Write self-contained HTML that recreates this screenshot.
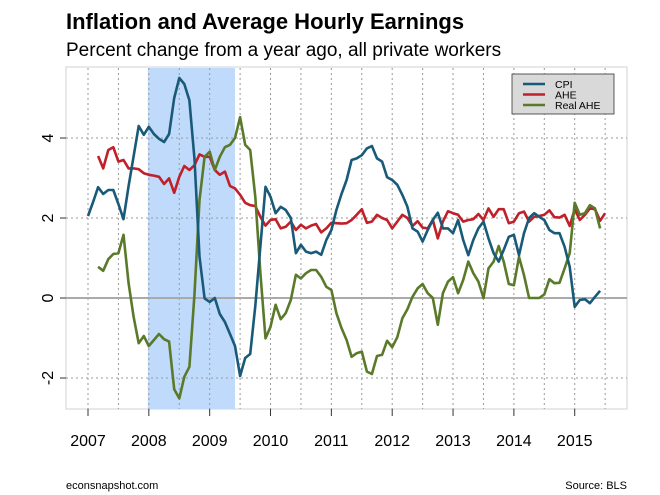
<!DOCTYPE html>
<html><head><meta charset="utf-8"><style>
body{margin:0;background:#fff;}
svg{display:block;font-family:"Liberation Sans",Arial,sans-serif;}
</style></head><body>
<svg width="660" height="495" viewBox="0 0 660 495">
<text x="66" y="29" font-size="22" font-weight="bold">Inflation and Average Hourly Earnings</text>
<text x="66" y="56" font-size="19">Percent change from a year ago, all private workers</text>
<rect x="66" y="67" width="561" height="342" fill="#fff" stroke="#d8d8d8" stroke-width="1.2"/>
<g id="shade"></g>
<g id="grid"></g>
<g id="axes"></g>
<g id="series"></g>
<g>
<rect x="512" y="74" width="102" height="40" fill="#d9d9d9" stroke="#333" stroke-width="0.8"/>
<line x1="523" y1="84" x2="545" y2="84" stroke="#195a78" stroke-width="2.5"/>
<text x="555" y="88" font-size="10.5">CPI</text>
<line x1="523" y1="94.5" x2="545" y2="94.5" stroke="#c0202a" stroke-width="2.5"/>
<text x="555" y="98.5" font-size="10.5">AHE</text>
<line x1="523" y1="105" x2="545" y2="105" stroke="#5a7a2a" stroke-width="2.5"/>
<text x="555" y="109" font-size="10.5">Real AHE</text>
</g>
<text x="66" y="489" font-size="11">econsnapshot.com</text>
<text x="627" y="489" font-size="11" text-anchor="end">Source: BLS</text>
</svg>
<script>
const years=[2007,2008,2009,2010,2011,2012,2013,2014,2015];
const yTicks=[-2,0,2,4];
const recession=[12,29];
const cpi=[2.05,2.4,2.77,2.6,2.7,2.7,2.35,1.97,2.8,3.54,4.3,4.08,4.28,4.1,3.98,3.9,4.1,5.0,5.5,5.35,4.94,3.47,1.03,-0.01,-0.1,0,-0.4,-0.6,-0.9,-1.2,-1.95,-1.5,-1.4,-0.2,1.3,2.78,2.53,2.12,2.28,2.2,2.0,1.12,1.33,1.16,1.12,1.16,1.08,1.45,1.7,2.2,2.6,2.95,3.45,3.49,3.57,3.74,3.8,3.49,3.41,3.02,2.95,2.83,2.58,2.28,1.74,1.66,1.41,1.7,1.95,2.13,1.74,1.74,1.62,1.95,1.45,1.07,1.45,1.74,1.91,1.49,1.12,0.91,1.2,1.53,1.58,1.07,1.62,2.0,2.12,2.03,1.95,1.7,1.62,1.62,1.28,0.78,-0.22,-0.05,-0.03,-0.13,0.03,0.18];
const ahe=[null,null,3.55,3.24,3.7,3.77,3.41,3.45,3.24,3.24,3.22,3.12,3.08,3.06,3.03,2.85,2.99,2.63,3.03,3.3,3.2,3.32,3.59,3.53,3.53,3.2,3.08,3.16,2.8,2.74,2.58,2.38,2.32,2.3,2.03,1.81,1.95,1.97,1.74,1.78,1.91,1.7,1.83,1.74,1.81,1.85,1.64,1.74,1.88,1.87,1.86,1.87,1.95,2.08,2.22,1.88,1.91,2.08,2.0,1.95,1.74,1.91,2.08,2.0,1.8,1.92,1.76,1.74,1.95,1.49,1.91,2.17,2.12,2.08,1.91,1.95,1.97,2.1,1.95,2.24,2.03,2.22,2.22,1.87,1.91,2.12,2.16,1.91,2.03,2.05,2.08,2.19,2.02,2.01,2.08,1.8,2.22,1.95,2.08,2.24,2.22,1.93,2.12];
const realAhe=[null,null,0.78,0.68,0.97,1.1,1.12,1.58,0.37,-0.47,-1.13,-0.95,-1.2,-1.05,-0.9,-1.03,-1.09,-2.28,-2.51,-1.97,-1.72,0.1,2.45,3.53,3.66,3.2,3.53,3.77,3.83,4.0,4.52,3.83,3.7,2.53,0.62,-1.01,-0.72,-0.17,-0.53,-0.38,-0.05,0.58,0.49,0.62,0.7,0.7,0.53,0.28,0.2,-0.38,-0.75,-1.05,-1.47,-1.38,-1.34,-1.84,-1.9,-1.45,-1.42,-1.07,-1.23,-0.98,-0.51,-0.28,0.03,0.24,0.35,0.12,0,-0.67,0.12,0.41,0.52,0.12,0.45,0.91,0.62,0.41,0,0.74,0.91,1.3,0.91,0.35,0.32,1.03,0.57,0,0,0,0.09,0.47,0.37,0.38,0.74,1.12,2.38,2.08,2.12,2.32,2.24,1.74];
const NS="http://www.w3.org/2000/svg";
function xS(m){return 88+m*5.07;}
function yS(v){return 298-v*40;}
function mk(tag,attrs,parent){const e=document.createElementNS(NS,tag);for(const k in attrs)e.setAttribute(k,attrs[k]);document.getElementById(parent).appendChild(e);return e;}
let s=mk('rect',{x:xS(recession[0])-1,y:68,width:xS(recession[1])-xS(recession[0])+1,height:341,fill:'#c0dafc'},'shade');


for(let h=0;h<=17;h++){
  const x=xS(h*6);
  let g=mk('line',{x1:x,x2:x,y1:68,y2:409,stroke:'#999','stroke-width':1,'stroke-dasharray':'2,3'},'grid');
  
  
}
yTicks.forEach(v=>{
  const y=yS(v);
  let g=mk('line',{x1:66,x2:627,y1:y,y2:y,stroke:v===0?'#aaa':'#999','stroke-width':v===0?2:1,'stroke-dasharray':v===0?'none':'2,3'},'grid');
  
  
  let t=mk('line',{x1:60,x2:66,y1:y,y2:y,stroke:'#333','stroke-width':1},'axes');
  
  
  let l=mk('text',{x:0,y:0,'font-size':16,'text-anchor':'middle',transform:`translate(53,${y}) rotate(-90)`},'axes');
  l.textContent=String(v);
  
  
});
years.forEach((yr,i)=>{
  const x=xS(i*12);
  let t=mk('line',{x1:x,x2:x,y1:409,y2:416,stroke:'#333','stroke-width':1},'axes');
  
  
  let l=mk('text',{x:x,y:446,'font-size':16,'text-anchor':'middle'},'axes');
  l.textContent=String(yr);
  
  
});
function path(arr){let d='';arr.forEach((v,i)=>{if(v===null)return;d+=(d?'L':'M')+xS(i).toFixed(1)+','+yS(v).toFixed(1);});return d;}
let p1=mk('path',{d:path(ahe),fill:'none',stroke:'#c0202a','stroke-width':2.6,'stroke-linejoin':'round'},'series');


let p2=mk('path',{d:path(realAhe),fill:'none',stroke:'#5a7a2a','stroke-width':2.6,'stroke-linejoin':'round'},'series');


let p3=mk('path',{d:path(cpi),fill:'none',stroke:'#195a78','stroke-width':2.6,'stroke-linejoin':'round'},'series');


</script>
</body></html>
